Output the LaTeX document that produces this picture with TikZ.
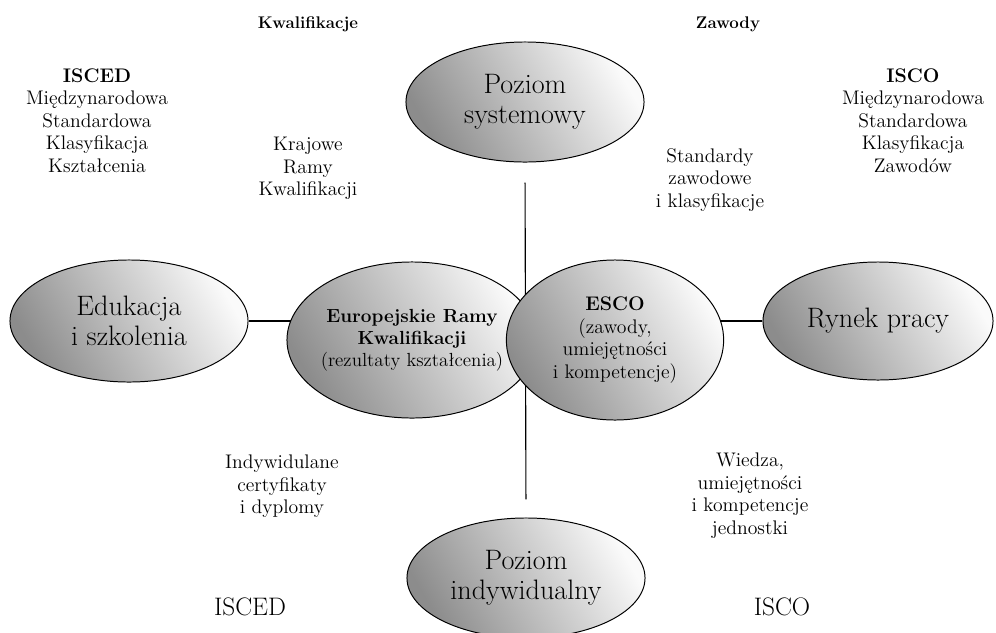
\documentclass[tikz,border=0pt]{standalone}
\usepackage{tikz}
\usetikzlibrary{shapes.geometric,backgrounds}

\tikzset{
    bubble/.style={ellipse, draw, line width=0.7pt, inner sep=0pt, align=center,
        bottom color=black!45, top color=black!2, shading angle=-60},
    big/.style={font=\fontsize{20}{21.5}\selectfont},
    small/.style={font=\fontsize{14}{16}\selectfont, align=center, inner sep=0pt},
    head/.style={font=\bfseries\fontsize{12}{14}\selectfont, anchor=base},
    axis/.style={line width=0.8pt},
}

\begin{document}
\begin{tikzpicture}[x=0.025cm, y=-0.025cm]
    \useasboundingbox (0,0) rectangle (996,633);

    \node[bubble, big, minimum width=5.95cm, minimum height=3cm] (sys) at (525,102) {Poziom\\systemowy};
    \node[bubble, big, minimum width=5.95cm, minimum height=3cm, inner xsep=-6pt] (ind) at (526,578) {Poziom\\indywidualny};
    \node[bubble, big, minimum width=5.95cm, minimum height=3.05cm] (edu) at (129,321) {Edukacja\\i szkolenia};
    \node[bubble, big, minimum width=5.75cm, minimum height=2.95cm] (rynek) at (878,321) {Rynek pracy};
    \node[bubble, small, font=\fontsize{13.5}{15.5}\selectfont, minimum width=6.25cm, minimum height=3.9cm, inner xsep=-8pt] (erk) at (412,340)
        {\textbf{Europejskie Ramy}\\\textbf{Kwalifikacji}\\(rezultaty kształcenia)};
    \node[bubble, small, minimum width=5.43cm, minimum height=4cm] (esco) at (615,340)
        {\textbf{ESCO}\\(zawody,\\umiejętności\\i kompetencje)};

    \begin{scope}[on background layer]
        \draw[axis, shorten <=0.5cm, shorten >=0.45cm] (sys.south) -- (ind.north);
        \draw[axis] (edu.east) -- (edu.east -| erk.center);
        \draw[axis] (rynek.west) -- (rynek.west -| esco.center);
    \end{scope}

    \node[head] (kwal) at (308,28) {Kwalifikacje};
    \node[head] (zaw) at (728,28) {Zawody};

    \node[small, anchor=north] (isced) at (97,68)
        {{\bfseries\fontsize{14}{16}\selectfont ISCED}\\Międzynarodowa\\Standardowa\\Klasyfikacja\\Kształcenia};
    \node[small, anchor=north] (isco) at (913,68)
        {{\bfseries\fontsize{14}{16}\selectfont ISCO}\\Międzynarodowa\\Standardowa\\Klasyfikacja\\Zawodów};

    \node[small, anchor=north] (krk) at (308,137) {Krajowe\\Ramy\\Kwalifikacji};
    \node[small, anchor=north] (std) at (710,148) {Standardy\\zawodowe\\i klasyfikacje};
    \node[small, anchor=north] (cert) at (282,455) {Indywidulane\\certyfikaty\\i dyplomy};
    \node[small, anchor=north] (wiedza) at (750,453) {Wiedza,\\umiejętności\\i kompetencje\\jednostki};

    \node[font=\fontsize{18}{20}\selectfont, anchor=base] (iscedb) at (250,615) {ISCED};
    \node[font=\fontsize{18}{20}\selectfont, anchor=base] (iscob) at (782,615) {ISCO};
\end{tikzpicture}
\end{document}
